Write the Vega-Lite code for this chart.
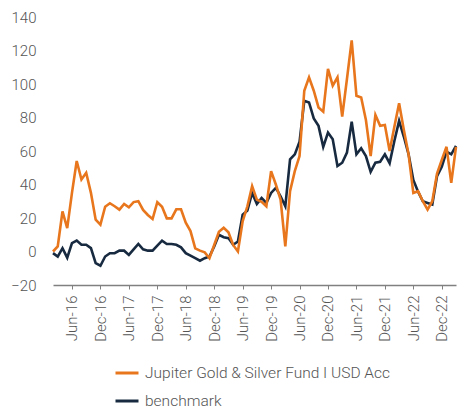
{
  "$schema": "https://vega.github.io/schema/vega-lite/v6.json",
  "width": 403,
  "height": 268,
  "autosize": {"type": "none"},
  "padding": {"left": 53, "top": 17, "right": 9, "bottom": 124},
  "background": "white",
  "config": {
    "view": {"stroke": null},
    "font": "Roboto",
    "axis": {"labelFont": "Roboto", "labelFontWeight": 300, "labelColor": "#555555", "labelFontSize": 15}
  },
  "data": {
    "values": [
      {"m": "Feb-16", "benchmark": -1, "Jupiter Gold & Silver Fund I USD Acc": 0},
      {"m": "Mar-16", "benchmark": -3, "Jupiter Gold & Silver Fund I USD Acc": 3},
      {"m": "Apr-16", "benchmark": 2, "Jupiter Gold & Silver Fund I USD Acc": 24},
      {"m": "May-16", "benchmark": -3.7, "Jupiter Gold & Silver Fund I USD Acc": 14},
      {"m": "Jun-16", "benchmark": 5, "Jupiter Gold & Silver Fund I USD Acc": 35},
      {"m": "Jul-16", "benchmark": 6.5, "Jupiter Gold & Silver Fund I USD Acc": 54},
      {"m": "Aug-16", "benchmark": 4, "Jupiter Gold & Silver Fund I USD Acc": 43},
      {"m": "Sep-16", "benchmark": 4, "Jupiter Gold & Silver Fund I USD Acc": 47},
      {"m": "Oct-16", "benchmark": 2, "Jupiter Gold & Silver Fund I USD Acc": 35},
      {"m": "Nov-16", "benchmark": -7, "Jupiter Gold & Silver Fund I USD Acc": 19},
      {"m": "Dec-16", "benchmark": -8.5, "Jupiter Gold & Silver Fund I USD Acc": 16},
      {"m": "Jan-17", "benchmark": -3, "Jupiter Gold & Silver Fund I USD Acc": 26.7},
      {"m": "Feb-17", "benchmark": -1, "Jupiter Gold & Silver Fund I USD Acc": 28.8},
      {"m": "Mar-17", "benchmark": -1, "Jupiter Gold & Silver Fund I USD Acc": 27},
      {"m": "Apr-17", "benchmark": 0.5, "Jupiter Gold & Silver Fund I USD Acc": 25},
      {"m": "May-17", "benchmark": 0.5, "Jupiter Gold & Silver Fund I USD Acc": 28.4},
      {"m": "Jun-17", "benchmark": -2, "Jupiter Gold & Silver Fund I USD Acc": 26.4},
      {"m": "Jul-17", "benchmark": 1.3, "Jupiter Gold & Silver Fund I USD Acc": 29.5},
      {"m": "Aug-17", "benchmark": 4.5, "Jupiter Gold & Silver Fund I USD Acc": 30},
      {"m": "Sep-17", "benchmark": 1.3, "Jupiter Gold & Silver Fund I USD Acc": 24.8},
      {"m": "Oct-17", "benchmark": 0.5, "Jupiter Gold & Silver Fund I USD Acc": 21.8},
      {"m": "Nov-17", "benchmark": 0.5, "Jupiter Gold & Silver Fund I USD Acc": 19.4},
      {"m": "Dec-17", "benchmark": 3.5, "Jupiter Gold & Silver Fund I USD Acc": 29.4},
      {"m": "Jan-18", "benchmark": 6.5, "Jupiter Gold & Silver Fund I USD Acc": 26.7},
      {"m": "Feb-18", "benchmark": 4.5, "Jupiter Gold & Silver Fund I USD Acc": 19.8},
      {"m": "Mar-18", "benchmark": 4.5, "Jupiter Gold & Silver Fund I USD Acc": 19.8},
      {"m": "Apr-18", "benchmark": 4, "Jupiter Gold & Silver Fund I USD Acc": 25.2},
      {"m": "May-18", "benchmark": 2.5, "Jupiter Gold & Silver Fund I USD Acc": 25.2},
      {"m": "Jun-18", "benchmark": -1, "Jupiter Gold & Silver Fund I USD Acc": 17.2},
      {"m": "Jul-18", "benchmark": -2.5, "Jupiter Gold & Silver Fund I USD Acc": 12.2},
      {"m": "Aug-18", "benchmark": -4, "Jupiter Gold & Silver Fund I USD Acc": 1.9},
      {"m": "Sep-18", "benchmark": -5.5, "Jupiter Gold & Silver Fund I USD Acc": 0.5},
      {"m": "Oct-18", "benchmark": -4, "Jupiter Gold & Silver Fund I USD Acc": -0.5},
      {"m": "Nov-18", "benchmark": -3, "Jupiter Gold & Silver Fund I USD Acc": -4},
      {"m": "Dec-18", "benchmark": 3, "Jupiter Gold & Silver Fund I USD Acc": 3.9},
      {"m": "Jan-19", "benchmark": 10, "Jupiter Gold & Silver Fund I USD Acc": 11.8},
      {"m": "Feb-19", "benchmark": 8.5, "Jupiter Gold & Silver Fund I USD Acc": 14.2},
      {"m": "Mar-19", "benchmark": 8, "Jupiter Gold & Silver Fund I USD Acc": 11.5},
      {"m": "Apr-19", "benchmark": 4, "Jupiter Gold & Silver Fund I USD Acc": 3.9},
      {"m": "May-19", "benchmark": 6, "Jupiter Gold & Silver Fund I USD Acc": 0},
      {"m": "Jun-19", "benchmark": 22, "Jupiter Gold & Silver Fund I USD Acc": 18},
      {"m": "Jul-19", "benchmark": 24.4, "Jupiter Gold & Silver Fund I USD Acc": 27},
      {"m": "Aug-19", "benchmark": 35, "Jupiter Gold & Silver Fund I USD Acc": 39},
      {"m": "Sep-19", "benchmark": 28.4, "Jupiter Gold & Silver Fund I USD Acc": 31},
      {"m": "Oct-19", "benchmark": 32, "Jupiter Gold & Silver Fund I USD Acc": 29.7},
      {"m": "Nov-19", "benchmark": 29, "Jupiter Gold & Silver Fund I USD Acc": 27},
      {"m": "Dec-19", "benchmark": 35, "Jupiter Gold & Silver Fund I USD Acc": 48},
      {"m": "Jan-20", "benchmark": 38, "Jupiter Gold & Silver Fund I USD Acc": 40},
      {"m": "Feb-20", "benchmark": 33, "Jupiter Gold & Silver Fund I USD Acc": 31},
      {"m": "Mar-20", "benchmark": 27, "Jupiter Gold & Silver Fund I USD Acc": 3},
      {"m": "Apr-20", "benchmark": 55, "Jupiter Gold & Silver Fund I USD Acc": 36},
      {"m": "May-20", "benchmark": 58, "Jupiter Gold & Silver Fund I USD Acc": 48},
      {"m": "Jun-20", "benchmark": 65.5, "Jupiter Gold & Silver Fund I USD Acc": 57},
      {"m": "Jul-20", "benchmark": 90, "Jupiter Gold & Silver Fund I USD Acc": 96},
      {"m": "Aug-20", "benchmark": 89, "Jupiter Gold & Silver Fund I USD Acc": 104},
      {"m": "Sep-20", "benchmark": 79.5, "Jupiter Gold & Silver Fund I USD Acc": 96},
      {"m": "Oct-20", "benchmark": 75, "Jupiter Gold & Silver Fund I USD Acc": 86},
      {"m": "Nov-20", "benchmark": 62.5, "Jupiter Gold & Silver Fund I USD Acc": 83.5},
      {"m": "Dec-20", "benchmark": 71, "Jupiter Gold & Silver Fund I USD Acc": 109},
      {"m": "Jan-21", "benchmark": 67, "Jupiter Gold & Silver Fund I USD Acc": 99},
      {"m": "Feb-21", "benchmark": 51, "Jupiter Gold & Silver Fund I USD Acc": 104},
      {"m": "Mar-21", "benchmark": 53, "Jupiter Gold & Silver Fund I USD Acc": 80.5},
      {"m": "Apr-21", "benchmark": 59, "Jupiter Gold & Silver Fund I USD Acc": 103},
      {"m": "May-21", "benchmark": 77.5, "Jupiter Gold & Silver Fund I USD Acc": 126},
      {"m": "Jun-21", "benchmark": 58, "Jupiter Gold & Silver Fund I USD Acc": 93},
      {"m": "Jul-21", "benchmark": 61.6, "Jupiter Gold & Silver Fund I USD Acc": 92},
      {"m": "Aug-21", "benchmark": 57, "Jupiter Gold & Silver Fund I USD Acc": 78.5},
      {"m": "Sep-21", "benchmark": 47.6, "Jupiter Gold & Silver Fund I USD Acc": 57},
      {"m": "Oct-21", "benchmark": 53, "Jupiter Gold & Silver Fund I USD Acc": 81.5},
      {"m": "Nov-21", "benchmark": 53.6, "Jupiter Gold & Silver Fund I USD Acc": 75},
      {"m": "Dec-21", "benchmark": 58, "Jupiter Gold & Silver Fund I USD Acc": 75.5},
      {"m": "Jan-22", "benchmark": 52.7, "Jupiter Gold & Silver Fund I USD Acc": 60},
      {"m": "Feb-22", "benchmark": 66, "Jupiter Gold & Silver Fund I USD Acc": 74.5},
      {"m": "Mar-22", "benchmark": 78, "Jupiter Gold & Silver Fund I USD Acc": 88.5},
      {"m": "Apr-22", "benchmark": 68.5, "Jupiter Gold & Silver Fund I USD Acc": 72.5},
      {"m": "May-22", "benchmark": 58, "Jupiter Gold & Silver Fund I USD Acc": 58},
      {"m": "Jun-22", "benchmark": 42.7, "Jupiter Gold & Silver Fund I USD Acc": 35},
      {"m": "Jul-22", "benchmark": 35.7, "Jupiter Gold & Silver Fund I USD Acc": 36},
      {"m": "Aug-22", "benchmark": 30, "Jupiter Gold & Silver Fund I USD Acc": 30},
      {"m": "Sep-22", "benchmark": 29, "Jupiter Gold & Silver Fund I USD Acc": 25},
      {"m": "Oct-22", "benchmark": 28, "Jupiter Gold & Silver Fund I USD Acc": 30},
      {"m": "Nov-22", "benchmark": 45, "Jupiter Gold & Silver Fund I USD Acc": 46.5},
      {"m": "Dec-22", "benchmark": 50.6, "Jupiter Gold & Silver Fund I USD Acc": 54.6},
      {"m": "Jan-23", "benchmark": 59.6, "Jupiter Gold & Silver Fund I USD Acc": 62.5},
      {"m": "Feb-23", "benchmark": 58, "Jupiter Gold & Silver Fund I USD Acc": 41},
      {"m": "Mar-23", "benchmark": 63, "Jupiter Gold & Silver Fund I USD Acc": 62.5}
    ]
  },
  "transform": [
    {"fold": ["benchmark", "Jupiter Gold & Silver Fund I USD Acc"], "as": ["series", "value"]}
  ],
  "mark": {"type": "line", "strokeWidth": 2.6, "strokeJoin": "miter"},
  "encoding": {
    "x": {
      "field": "m",
      "type": "ordinal",
      "sort": null,
      "scale": {"type": "point", "padding": 0},
      "axis": {
        "title": null,
        "values": ["Jun-16", "Dec-16", "Jun-17", "Dec-17", "Jun-18", "Dec-18", "Jun-19", "Dec-19", "Jun-20", "Dec-20", "Jun-21", "Dec-21", "Jun-22", "Dec-22"],
        "labelAngle": 270,
        "labelAlign": "right",
        "labelBaseline": "middle",
        "labelPadding": 6,
        "tickSize": 4,
        "tickColor": "#808080",
        "domainColor": "#808080",
        "domainWidth": 1.5,
        "grid": false
      }
    },
    "y": {
      "field": "value",
      "type": "quantitative",
      "scale": {"domain": [-20, 140], "nice": false, "zero": false},
      "axis": {
        "title": null,
        "values": [-20, 0, 20, 40, 60, 80, 100, 120, 140],
        "domain": false,
        "ticks": false,
        "grid": false,
        "labelPadding": 17
      }
    },
    "color": {
      "field": "series",
      "type": "nominal",
      "scale": {
        "domain": ["Jupiter Gold & Silver Fund I USD Acc", "benchmark"],
        "range": ["#E8761C", "#172A40"]
      },
      "legend": {
        "title": null,
        "orient": "none",
        "legendX": 61,
        "legendY": 343,
        "direction": "vertical",
        "symbolType": "stroke",
        "symbolSize": 529,
        "symbolStrokeWidth": 3,
        "labelFont": "Roboto",
        "labelFontWeight": 300,
        "labelFontSize": 15.5,
        "labelColor": "#555555",
        "labelOffset": 5,
        "labelLimit": 0,
        "rowPadding": 6,
        "padding": 0
      }
    }
  }
}
